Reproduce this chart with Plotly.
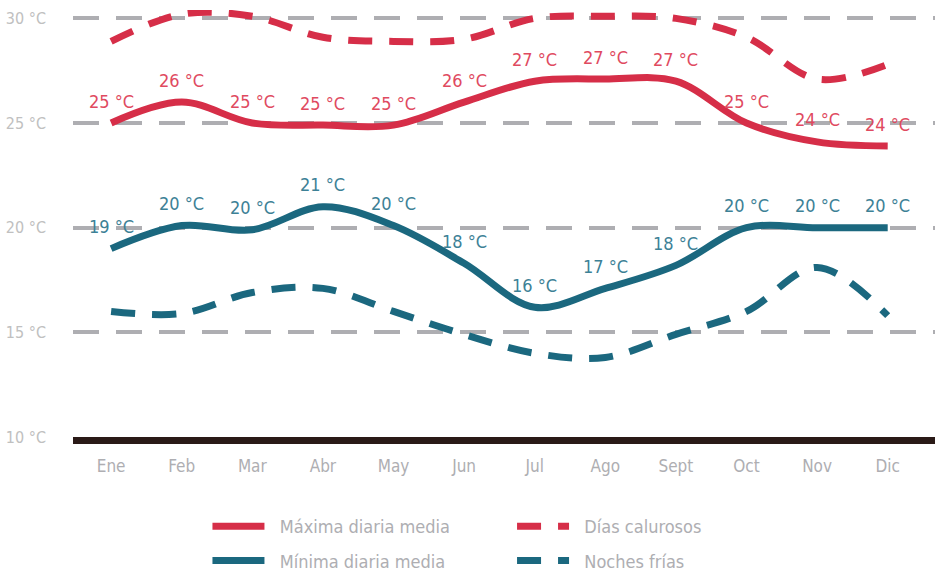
import plotly.graph_objects as go

months = ["Ene", "Feb", "Mar", "Abr", "May", "Jun", "Jul", "Ago", "Sept", "Oct", "Nov", "Dic"]
max_media = [25.0, 26.0, 25.0, 24.9, 24.9, 26.0, 27.0, 27.1, 27.0, 25.0, 24.1, 23.9]
dias_calurosos = [28.9, 30.2, 30.1, 29.1, 28.9, 29.0, 30.0, 30.1, 30.0, 29.1, 27.1, 27.8]
min_media = [19.0, 20.1, 19.9, 21.0, 20.1, 18.3, 16.2, 17.1, 18.2, 20.0, 20.0, 20.0]
noches_frias = [16.0, 15.9, 16.9, 17.1, 16.0, 14.9, 14.0, 13.8, 14.9, 16.0, 18.1, 15.8]
y_ticks = [10, 15, 20, 25, 30]
y_tick_labels = [f"{t} °C" for t in y_ticks]

RED = "#d62e48"
TEAL = "#1b687f"
RED_TXT = "#e04a60"
TEAL_TXT = "#3d8196"
GRAY = "#aeaeb2"
FONT = "Liberation Sans Narrow, DejaVu Sans Condensed, Roboto, sans-serif"
PAD = "\u00a0\u00a0"

fig = go.Figure()
fig.add_trace(go.Scatter(x=months, y=max_media, mode="lines", name=PAD + "Máxima diaria media",
                         legend="legend", legendgroup="a",
                         line=dict(color=RED, width=7, shape="spline", smoothing=1.0)))
fig.add_trace(go.Scatter(x=months, y=dias_calurosos, mode="lines", name=PAD + "Días calurosos",
                         legend="legend2", legendgroup="b",
                         line=dict(color=RED, width=7, shape="spline", smoothing=1.0, dash="24px,17px")))
fig.add_trace(go.Scatter(x=months, y=min_media, mode="lines", name=PAD + "Mínima diaria media",
                         legend="legend", legendgroup="c",
                         line=dict(color=TEAL, width=7, shape="spline", smoothing=1.0)))
fig.add_trace(go.Scatter(x=months, y=noches_frias, mode="lines", name=PAD + "Noches frías",
                         legend="legend2", legendgroup="d",
                         line=dict(color=TEAL, width=7, shape="spline", smoothing=1.0, dash="24px,17px")))

for series, col in ((max_media, RED_TXT), (min_media, TEAL_TXT)):
    for m, v in zip(months, series):
        fig.add_annotation(x=m, y=v, text=f"{round(v)} °C", showarrow=False, yshift=22,
                           font=dict(family=FONT, size=18, color=col))

legend_style = dict(orientation="v", xref="container", yref="container", yanchor="top",
                    xanchor="left", y=0.112, font=dict(family=FONT, size=18, color=GRAY),
                    tracegroupgap=8, itemwidth=52, bgcolor="rgba(0,0,0,0)")

fig.update_layout(
    width=943, height=572,
    margin=dict(l=73, r=8, t=10, b=135, autoexpand=False),
    paper_bgcolor="white", plot_bgcolor="white",
    font=dict(family=FONT, size=17, color=GRAY),
    showlegend=True,
    legend=dict(x=0.220, **legend_style),
    legend2=dict(x=0.543, **legend_style),
)
fig.update_xaxes(type="category", range=[-0.54, 11.67], showgrid=False, zeroline=False,
                 showline=True, linecolor="#2a1a17", linewidth=7,
                 ticks="", ticklabelstandoff=8,
                 tickfont=dict(family=FONT, size=17, color=GRAY))
fig.update_yaxes(range=[10, 30.4], tickvals=y_ticks, ticktext=y_tick_labels,
                 showgrid=True, gridcolor=GRAY, gridwidth=4, griddash="26px,17px",
                 zeroline=False, showline=False, ticks="", ticklabelstandoff=26,
                 tickfont=dict(family=FONT, size=16, color="#c0c0c0"))

fig.write_html("out.html", config={"displayModeBar": False},
               post_script="document.body.style.margin='0';document.body.style.overflow='hidden';")
